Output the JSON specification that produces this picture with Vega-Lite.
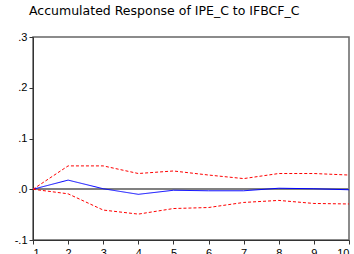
{
  "$schema": "https://vega.github.io/schema/vega-lite/v6.json",
  "width": 316,
  "height": 203,
  "autosize": "none",
  "padding": {"left": 33, "top": 37, "right": 5, "bottom": 14},
  "background": "white",
  "title": {
    "text": "Accumulated Response of IPE_C to IFBCF_C",
    "anchor": "start",
    "frame": "group",
    "dx": -4,
    "offset": 14,
    "font": "DejaVu Sans",
    "fontSize": 12.5,
    "fontWeight": "normal",
    "color": "#000000"
  },
  "config": {
    "view": {"stroke": "#666666", "strokeWidth": 1.5},
    "axis": {
      "labelFont": "Liberation Sans",
      "labelFontSize": 11,
      "labelColor": "#000000",
      "domainColor": "#333333",
      "tickColor": "#333333",
      "tickSize": 4,
      "grid": false,
      "title": null
    }
  },
  "data": {
    "values": [
      {"period": 1, "series": "response", "value": 0},
      {"period": 2, "series": "response", "value": 0.018},
      {"period": 3, "series": "response", "value": 0.001},
      {"period": 4, "series": "response", "value": -0.010},
      {"period": 5, "series": "response", "value": -0.002},
      {"period": 6, "series": "response", "value": -0.003},
      {"period": 7, "series": "response", "value": -0.003},
      {"period": 8, "series": "response", "value": 0.002},
      {"period": 9, "series": "response", "value": 0.001},
      {"period": 10, "series": "response", "value": -0.001},
      {"period": 1, "series": "upper", "value": 0},
      {"period": 2, "series": "upper", "value": 0.046},
      {"period": 3, "series": "upper", "value": 0.046},
      {"period": 4, "series": "upper", "value": 0.031},
      {"period": 5, "series": "upper", "value": 0.036},
      {"period": 6, "series": "upper", "value": 0.028},
      {"period": 7, "series": "upper", "value": 0.021},
      {"period": 8, "series": "upper", "value": 0.031},
      {"period": 9, "series": "upper", "value": 0.031},
      {"period": 10, "series": "upper", "value": 0.028},
      {"period": 1, "series": "lower", "value": 0},
      {"period": 2, "series": "lower", "value": -0.009},
      {"period": 3, "series": "lower", "value": -0.041},
      {"period": 4, "series": "lower", "value": -0.049},
      {"period": 5, "series": "lower", "value": -0.038},
      {"period": 6, "series": "lower", "value": -0.036},
      {"period": 7, "series": "lower", "value": -0.026},
      {"period": 8, "series": "lower", "value": -0.022},
      {"period": 9, "series": "lower", "value": -0.028},
      {"period": 10, "series": "lower", "value": -0.029}
    ]
  },
  "layer": [
    {
      "mark": {"type": "rule", "color": "#808080", "strokeWidth": 1.5},
      "encoding": {"y": {"datum": 0, "type": "quantitative"}}
    },
    {
      "mark": {"type": "line", "strokeWidth": 1},
      "encoding": {
        "x": {
          "field": "period",
          "type": "quantitative",
          "scale": {"domain": [1, 10], "nice": false, "zero": false},
          "axis": {"values": [1,2,3,4,5,6,7,8,9,10], "format": "d", "labelPadding": 3}
        },
        "y": {
          "field": "value",
          "type": "quantitative",
          "scale": {"domain": [-0.1, 0.3], "nice": false},
          "axis": {
            "values": [-0.1, 0, 0.1, 0.2, 0.3],
            "labelExpr": "datum.value < 0 ? '-.' + format(-datum.value * 10, 'd') : '.' + format(datum.value * 10, 'd')",
            "labelPadding": 2
          }
        },
        "detail": {"field": "series"},
        "color": {
          "field": "series",
          "type": "nominal",
          "scale": {"domain": ["response", "upper", "lower"], "range": ["#0000ff", "#ff0000", "#ff0000"]},
          "legend": null
        },
        "strokeDash": {
          "field": "series",
          "type": "nominal",
          "scale": {"domain": ["response", "upper", "lower"], "range": [[1, 0], [3, 2], [3, 2]]},
          "legend": null
        }
      }
    }
  ]
}
